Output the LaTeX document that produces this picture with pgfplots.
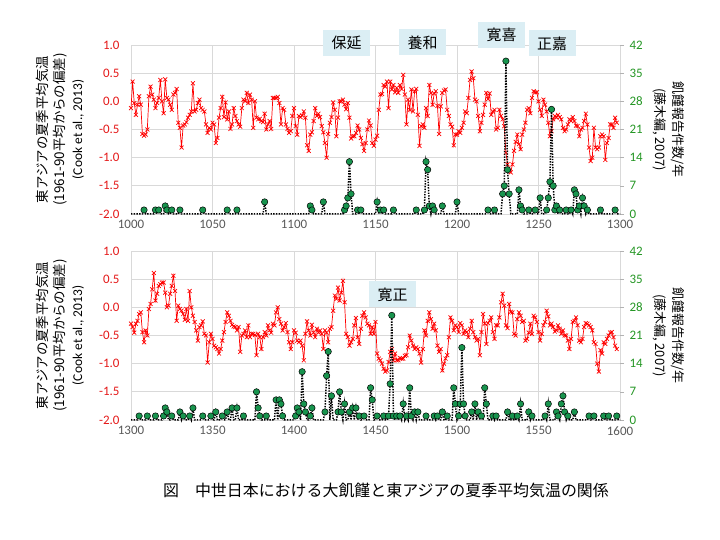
\documentclass[border=0pt]{standalone}
\usepackage{pgfplots}
\pgfplotsset{compat=1.18}
\usepackage{pgfplotstable}
\usepackage{fontspec}
\setmainfont{Carlito}
\newfontfamily\jp{Noto Sans CJK JP}
\definecolor{tred}{RGB}{228,24,24}
\definecolor{gdot}{RGB}{24,148,78}
\definecolor{glab}{RGB}{36,150,36}
\definecolor{gridc}{RGB}{217,217,217}
\definecolor{boxc}{RGB}{219,238,244}
\definecolor{xlab}{RGB}{89,89,89}

% temperature anomaly, 1000-1300
\pgfplotstableread[row sep=\\]{year t\\
1000 -0.12\\1001 0.35\\1002 -0.03\\1003 -0.24\\1004 -0.06\\1005 0.09\\1006 -0.06\\1007 -0.58\\1008 -0.61\\1009 -0.59\\
1010 -0.50\\1011 0.09\\1012 0.26\\1013 0.12\\1014 0.03\\1015 -0.12\\1016 -0.03\\1017 0.06\\1018 0.38\\1019 0.00\\
1020 -0.21\\1021 0.39\\1022 0.06\\1023 0.03\\1024 -0.06\\1025 -0.15\\1026 0.12\\1027 0.15\\1028 0.22\\1029 -0.38\\
1030 -0.47\\1031 -0.82\\1032 -0.43\\1033 -0.41\\1034 -0.37\\1035 -0.29\\1036 -0.24\\1037 -0.18\\1038 0.32\\1039 -0.18\\
1040 -0.15\\1041 -0.03\\1042 0.03\\1043 -0.12\\1044 -0.15\\1045 -0.18\\1046 -0.41\\1047 -0.56\\1048 -0.47\\1049 -0.50\\
1050 -0.38\\1051 -0.41\\1052 -0.74\\1053 -0.65\\1054 -0.29\\1055 -0.12\\1056 0.08\\1057 -0.28\\1058 -0.02\\1059 -0.32\\
1060 -0.18\\1061 -0.49\\1062 -0.41\\1063 -0.12\\1064 -0.26\\1065 -0.35\\1066 -0.41\\1067 -0.45\\1068 -0.12\\1069 0.03\\
1070 0.00\\1071 0.15\\1072 -0.03\\1073 0.12\\1074 0.03\\1075 -0.47\\1076 0.00\\1077 -0.29\\1078 -0.32\\1079 -0.31\\
1080 -0.35\\1081 -0.37\\1082 -0.22\\1083 -0.50\\1084 -0.41\\1085 -0.35\\1086 -0.49\\1087 0.06\\1088 0.06\\1089 0.06\\
1090 0.08\\1091 -0.03\\1092 -0.41\\1093 -0.12\\1094 -0.15\\1095 -0.41\\1096 -0.49\\1097 -0.56\\1098 -0.53\\1099 -0.26\\
1100 -0.12\\1101 -0.44\\1102 -0.59\\1103 -0.26\\1104 -0.28\\1105 -0.25\\1106 -0.18\\1107 -0.29\\1108 -0.78\\1109 -0.88\\
1110 -0.59\\1111 -0.55\\1112 -0.35\\1113 -0.12\\1114 -0.26\\1115 -0.22\\1116 -0.28\\1117 -0.44\\1118 -0.55\\1119 -0.74\\
1120 -1.00\\1121 -0.58\\1122 -0.38\\1123 -0.28\\1124 -0.02\\1125 -0.15\\1126 -0.62\\1127 -0.29\\1128 0.00\\1129 0.00\\
1130 0.03\\1131 -0.06\\1132 -0.14\\1133 -0.03\\1134 -0.29\\1135 -0.66\\1136 -0.62\\1137 -0.62\\1138 -0.56\\1139 -0.43\\
1140 -0.50\\1141 -0.65\\1142 -0.76\\1143 -0.88\\1144 -0.74\\1145 -0.50\\1146 -0.34\\1147 -0.43\\1148 -0.74\\1149 -0.79\\
1150 -0.68\\1151 -0.61\\1152 -0.15\\1153 0.12\\1154 0.13\\1155 0.29\\1156 0.26\\1157 0.35\\1158 -0.12\\1159 0.35\\
1160 0.21\\1161 0.29\\1162 0.16\\1163 0.24\\1164 0.15\\1165 0.29\\1166 0.22\\1167 0.47\\1168 0.12\\1169 -0.41\\
1170 0.03\\1171 -0.15\\1172 0.21\\1173 -0.18\\1174 0.18\\1175 0.22\\1176 -0.24\\1177 -0.79\\1178 -0.44\\1179 -0.41\\
1180 -0.47\\1181 -0.12\\1182 -0.26\\1183 0.29\\1184 0.15\\1185 -0.06\\1186 0.14\\1187 0.18\\1188 -0.08\\1189 -0.58\\
1190 -0.09\\1191 0.15\\1192 0.19\\1193 0.21\\1194 -0.15\\1195 -0.26\\1196 -0.41\\1197 -0.45\\1198 -0.78\\1199 -0.59\\
1200 -0.59\\1201 -0.53\\1202 -0.56\\1203 -0.47\\1204 -0.38\\1205 -0.18\\1206 -0.21\\1207 0.06\\1208 0.38\\1209 0.53\\
1210 0.41\\1211 0.03\\1212 0.00\\1213 -0.26\\1214 -0.53\\1215 -0.38\\1216 -0.24\\1217 -0.06\\1218 0.15\\1219 0.04\\
1220 0.14\\1221 -0.24\\1222 -0.18\\1223 -0.15\\1224 -0.50\\1225 -0.47\\1226 -0.15\\1227 -0.26\\1228 -0.32\\1229 -0.44\\
1230 -0.91\\1231 -1.12\\1232 -1.24\\1233 -1.26\\1234 -1.12\\1235 -0.88\\1236 -0.72\\1237 -0.59\\1238 -0.76\\1239 -0.85\\
1240 -0.59\\1241 -0.50\\1242 -0.38\\1243 -0.15\\1244 -0.12\\1245 -0.21\\1246 0.06\\1247 0.18\\1248 0.16\\1249 0.16\\
1250 0.00\\1251 -0.15\\1252 -0.26\\1253 0.03\\1254 -0.06\\1255 -0.18\\1256 -0.38\\1257 -0.62\\1258 -0.53\\1259 -0.32\\
1260 -0.26\\1261 -0.29\\1262 -0.24\\1263 -0.28\\1264 -0.32\\1265 -0.47\\1266 -0.53\\1267 -0.50\\1268 -0.41\\1269 -0.32\\
1270 -0.35\\1271 -0.28\\1272 -0.35\\1273 -0.43\\1274 -0.44\\1275 -0.62\\1276 -0.50\\1277 -0.47\\1278 -0.35\\1279 -0.22\\
1280 -0.41\\1281 -0.82\\1282 -1.06\\1283 -1.00\\1284 -0.47\\1285 -0.82\\1286 -0.85\\1287 -0.82\\1288 -0.62\\1289 -0.59\\
1290 -0.62\\1291 -1.04\\1292 -0.74\\1293 -0.65\\1294 -0.41\\1295 -0.41\\1296 -0.47\\1297 -0.29\\1298 -0.38\\
}\tempA

% famine reports per year, 1000-1300
\pgfplotstableread[row sep=\\]{year n\\
1000 0\\1007 0\\1008 1\\1009 0\\1014 0\\1015 1\\1016 0\\1017 1\\1018 0\\1020 0\\1021 2\\1022 1\\1023 0\\1024 0\\1025 1\\1026 0\\
1029 0\\1030 1\\1031 0\\1043 0\\1044 1\\1045 0\\1058 0\\1059 1\\1060 0\\1064 0\\1065 1\\1066 0\\1081 0\\1082 3\\1083 0\\
1109 0\\1110 2\\1111 1\\1112 0\\1117 0\\1118 3\\1119 0\\1130 0\\1131 1\\1132 2\\1133 4\\1134 13\\1135 5\\1136 0\\
1138 0\\1139 1\\1140 0\\1141 1\\1142 0\\1150 0\\1151 3\\1152 0\\1153 1\\1154 0\\1155 1\\1156 0\\1160 0\\1161 1\\1162 0\\
1174 0\\1175 1\\1176 0\\1179 0\\1180 1\\1181 13\\1182 11\\1183 2\\1184 0\\1185 2\\1186 1\\1187 0\\1190 0\\1191 2\\1192 0\\
1199 0\\1200 3\\1201 0\\1218 0\\1219 1\\1220 0\\1222 0\\1223 1\\1224 0\\1227 0\\1228 5\\1229 7\\1230 38\\1231 11\\1232 5\\1233 0\\
1237 0\\1238 6\\1239 2\\1240 1\\1241 0\\1243 0\\1244 1\\1245 0\\1247 0\\1248 1\\1249 0\\1250 0\\1251 4\\1252 0\\
1254 0\\1255 1\\1256 4\\1257 8\\1258 26\\1259 7\\1260 1\\1261 2\\1262 0\\1263 1\\1264 0\\1266 0\\1267 1\\1268 0\\
1269 0\\1270 1\\1271 0\\1272 6\\1273 5\\1274 1\\1275 2\\1276 0\\1277 4\\1278 2\\1279 0\\1280 1\\1281 0\\
1287 0\\1288 1\\1289 0\\1296 0\\1297 1\\1298 0\\1300 0\\
}\famA

% temperature anomaly, 1300-1600
\pgfplotstableread[row sep=\\]{year t\\
1300 -0.29\\1301 -0.35\\1302 -0.45\\1303 -0.29\\1304 -0.24\\1305 -0.12\\1306 -0.09\\1307 -0.44\\1308 -0.62\\1309 -0.41\\
1310 -0.50\\1311 -0.03\\1312 0.06\\1313 0.32\\1314 0.61\\1315 0.12\\1316 0.24\\1317 0.38\\1318 0.41\\1319 0.44\\
1320 0.44\\1321 0.26\\1322 0.00\\1323 0.03\\1324 0.24\\1325 0.38\\1326 0.56\\1327 0.29\\1328 -0.24\\1329 0.03\\
1330 -0.03\\1331 -0.06\\1332 -0.12\\1333 -0.22\\1334 -0.03\\1335 -0.24\\1336 0.29\\1337 0.00\\1338 -0.15\\1339 -0.26\\
1340 -0.41\\1341 -0.59\\1342 -0.35\\1343 -0.32\\1344 -0.25\\1345 -0.47\\1346 -0.50\\1347 -0.98\\1348 -0.62\\1349 -0.47\\
1350 -0.56\\1351 -0.68\\1352 -0.71\\1353 -0.74\\1354 -0.82\\1355 -0.74\\1356 -0.59\\1357 -0.44\\1358 -0.26\\1359 -0.09\\
1360 -0.15\\1361 -0.24\\1362 -0.31\\1363 -0.34\\1364 -0.35\\1365 -0.41\\1366 -0.35\\1367 -0.79\\1368 -0.50\\1369 -0.47\\
1370 -0.41\\1371 -0.53\\1372 -0.32\\1373 -0.53\\1374 -0.47\\1375 -0.47\\1376 -0.49\\1377 -0.85\\1378 -0.47\\1379 -0.53\\
1380 -0.74\\1381 -0.53\\1382 -0.44\\1383 -0.50\\1384 -0.32\\1385 -0.41\\1386 -0.45\\1387 -0.29\\1388 -0.32\\1389 -0.09\\
1390 0.00\\1391 -0.21\\1392 -0.29\\1393 -0.41\\1394 -0.35\\1395 -0.28\\1396 -0.44\\1397 -0.62\\1398 -0.74\\1399 -0.62\\
1400 -0.41\\1401 -0.45\\1402 -0.59\\1403 -0.62\\1404 -0.59\\1405 -0.68\\1406 -0.94\\1407 -0.47\\1408 -0.25\\1409 -0.41\\
1410 -0.50\\1411 -0.31\\1412 -0.45\\1413 -0.53\\1414 -0.38\\1415 -0.45\\1416 -0.41\\1417 -0.47\\1418 -0.74\\1419 -0.41\\
1420 -0.45\\1421 -0.62\\1422 -0.38\\1423 -0.35\\1424 -0.06\\1425 0.21\\1426 0.15\\1427 0.35\\1428 0.12\\1429 0.26\\
1430 0.47\\1431 0.09\\1432 -0.47\\1433 -0.53\\1434 -0.68\\1435 -0.62\\1436 -0.56\\1437 -0.32\\1438 -0.19\\1439 -0.53\\
1440 -0.65\\1441 -0.38\\1442 -0.15\\1443 -0.09\\1444 -0.18\\1445 -0.29\\1446 -0.32\\1447 -0.47\\1448 -0.35\\1449 -0.47\\
1450 -0.26\\1451 -0.82\\1452 -0.91\\1453 -0.94\\1454 -1.00\\1455 -1.09\\1456 -1.14\\1457 -1.12\\1458 -0.97\\1459 -0.79\\
1460 -0.74\\1461 -0.94\\1462 -0.82\\1463 -0.94\\1464 -0.94\\1465 -0.90\\1466 -0.91\\1467 -0.91\\1468 -0.86\\1469 -0.85\\
1470 -0.71\\1471 -0.50\\1472 -0.59\\1473 -0.68\\1474 -0.74\\1475 -0.71\\1476 -0.74\\1477 -0.82\\1478 -0.98\\1479 -0.74\\
1480 -0.41\\1481 -0.50\\1482 -0.24\\1483 -0.09\\1484 -0.21\\1485 -0.38\\1486 -0.29\\1487 -0.41\\1488 -0.68\\1489 -0.79\\
1490 -0.74\\1491 -1.12\\1492 -1.00\\1493 -0.91\\1494 -0.85\\1495 -0.53\\1496 -0.18\\1497 -0.24\\1498 -0.41\\1499 -0.32\\
1500 -0.35\\1501 -0.44\\1502 -0.28\\1503 -0.32\\1504 -0.47\\1505 -0.41\\1506 -0.44\\1507 -0.53\\1508 -0.38\\1509 -0.24\\
1510 -0.44\\1511 -0.53\\1512 -0.59\\1513 -0.56\\1514 -0.85\\1515 -0.44\\1516 -0.12\\1517 -0.29\\1518 -0.65\\1519 -0.28\\
1520 -0.24\\1521 -0.18\\1522 -0.44\\1523 -0.56\\1524 -0.32\\1525 -0.32\\1526 -0.18\\1527 0.09\\1528 0.24\\1529 0.03\\
1530 -0.32\\1531 -0.37\\1532 0.06\\1533 -0.08\\1534 -0.09\\1535 -0.47\\1536 -0.50\\1537 -0.21\\1538 -0.09\\1539 -0.15\\
1540 -0.26\\1541 -0.24\\1542 -0.59\\1543 -0.56\\1544 -0.45\\1545 -0.29\\1546 -0.47\\1547 -0.15\\1548 -0.18\\1549 -0.26\\
1550 -0.44\\1551 -0.59\\1552 -0.47\\1553 -0.32\\1554 -0.26\\1555 -0.06\\1556 -0.16\\1557 -0.32\\1558 -0.29\\1559 -0.35\\
1560 -0.43\\1561 -0.41\\1562 -0.32\\1563 -0.38\\1564 -0.47\\1565 -0.41\\1566 -0.50\\1567 -0.50\\1568 -0.59\\1569 -0.74\\
1570 -0.56\\1571 -0.26\\1572 -0.24\\1573 -0.18\\1574 -0.32\\1575 -0.59\\1576 -0.62\\1577 -0.56\\1578 -0.35\\1579 -0.28\\
1580 -0.29\\1581 -0.32\\1582 -0.35\\1583 -0.41\\1584 -0.62\\1585 -0.65\\1586 -1.00\\1587 -1.14\\1588 -0.76\\1589 -0.82\\
1590 -0.62\\1591 -0.65\\1592 -0.56\\1593 -0.50\\1594 -0.45\\1595 -0.44\\1596 -0.53\\1597 -0.68\\1598 -0.74\\
}\tempB

% famine reports per year, 1300-1600
\pgfplotstableread[row sep=\\]{year n\\
1300 0\\1304 0\\1305 1\\1306 0\\1309 0\\1310 1\\1311 0\\1314 0\\1315 1\\1316 0\\1319 0\\1320 1\\1321 3\\1322 2\\1323 0\\
1324 0\\1325 1\\1326 0\\1329 0\\1330 2\\1331 0\\1332 1\\1333 0\\1335 0\\1336 1\\1337 0\\1338 3\\1339 0\\1343 0\\1344 1\\1345 0\\
1348 0\\1349 1\\1350 0\\1351 0\\1352 2\\1353 0\\1355 0\\1356 1\\1357 0\\1358 0\\1359 2\\1360 0\\1361 0\\1362 3\\1363 0\\
1364 0\\1365 3\\1366 0\\1368 0\\1369 1\\1370 0\\1376 0\\1377 7\\1378 3\\1379 1\\1380 0\\1382 0\\1383 1\\1384 0\\
1388 0\\1389 5\\1390 0\\1391 5\\1392 4\\1393 1\\1394 0\\1400 0\\1401 1\\1402 3\\1403 2\\1404 0\\1405 12\\1406 4\\1407 2\\1408 0\\
1409 0\\1410 1\\1411 3\\1412 0\\1418 0\\1419 2\\1420 11\\1421 17\\1422 0\\1423 6\\1424 0\\1426 0\\1427 2\\1428 7\\1429 2\\1430 0\\
1431 4\\1432 0\\1433 0\\1434 2\\1435 0\\1436 3\\1437 0\\1438 3\\1439 0\\1440 1\\1441 0\\1442 0\\1443 1\\1444 0\\
1446 0\\1447 8\\1448 5\\1449 0\\1450 0\\1451 1\\1452 0\\1454 0\\1455 1\\1456 0\\1457 0\\1458 1\\1459 9\\1460 26\\1461 1\\1462 0\\
1463 1\\1464 0\\1465 1\\1466 0\\1467 4\\1468 0\\1469 1\\1470 0\\1471 8\\1472 1\\1473 0\\1474 2\\1475 0\\1476 2\\1477 0\\
1480 0\\1481 1\\1482 0\\1485 0\\1486 1\\1487 0\\1488 1\\1489 0\\1490 0\\1491 2\\1492 0\\1493 0\\1494 1\\1495 0\\
1497 0\\1498 8\\1499 4\\1500 0\\1501 1\\1502 4\\1503 18\\1504 4\\1505 1\\1506 0\\1508 0\\1509 2\\1510 0\\1511 4\\1512 0\\
1513 2\\1514 0\\1515 1\\1516 0\\1517 8\\1518 4\\1519 0\\1521 0\\1522 1\\1523 0\\1524 1\\1525 0\\1530 0\\1531 2\\1532 0\\
1533 0\\1534 1\\1535 0\\1536 0\\1537 1\\1538 0\\1539 4\\1540 0\\1543 0\\1544 2\\1545 0\\1546 1\\1547 0\\
1553 0\\1554 1\\1555 0\\1556 4\\1557 0\\1560 0\\1561 2\\1562 1\\1563 0\\1564 4\\1565 6\\1566 2\\1567 0\\1568 1\\1569 0\\
1571 0\\1572 2\\1573 0\\1580 0\\1581 1\\1582 0\\1583 0\\1584 1\\1585 0\\1589 0\\1590 1\\1591 0\\1592 0\\1593 1\\1594 0\\
1597 0\\1598 1\\1599 0\\1600 0\\
}\famB

\pgfplotsset{
  tempax/.style={
    scale only axis, width=489bp, height=169bp, anchor=south west,
    ymin=-2, ymax=1, ytick={-2,-1.5,-1,-0.5,0,0.5,1},
    yticklabels={-2.0,-1.5,-1.0,-0.5,0.0,0.5,1.0},
    grid=major, major grid style={draw=gridc, line width=0.8bp},
    axis line style={draw=none}, major tick length=0pt,
    yticklabel style={text=tred, font=\fontsize{13}{13}\selectfont, xshift=-8bp},
    xticklabel style={text=xlab, font=\fontsize{13}{13}\selectfont, yshift=-3bp},
    clip=false,
  },
  famax/.style={
    scale only axis, width=489bp, height=169bp, anchor=south west,
    ymin=0, ymax=42, ytick={0,7,14,21,28,35,42},
    yticklabels={0,7,14,21,28,35,42},
    axis x line=none, axis y line*=right, axis line style={draw=none},
    tick align=outside, major tick length=4bp,
    ytick style={draw=gray!60, line width=0.6bp},
    yticklabel style={text=glab, font=\fontsize{13}{13}\selectfont, xshift=2bp},
    clip=false,
  },
  tline/.style={draw=red, line width=0.7bp, mark=x, mark size=2.8bp,
    mark options={draw=red, line width=0.7bp, solid}},
  fline/.style={draw=black, line width=1.5bp, dash pattern=on 1.4bp off 1.3bp, no marks},
  fdot/.style={only marks, mark=*, mark size=3.2bp,
    mark options={fill=gdot, draw=black, line width=0.5bp, solid},
    restrict y to domain=0.5:100},
}

\tikzset{era/.style={fill=boxc, minimum width=47bp, minimum height=26bp, inner sep=0pt,
  font=\jp\fontsize{15}{15}\selectfont}}

\begin{document}
\begin{tikzpicture}[x=1bp,y=1bp]
\path[use as bounding box] (0bp,0bp) rectangle (720bp,540bp);

% ---------- top panel ----------
\begin{axis}[tempax, at={(131bp,326bp)}, xmin=1000, xmax=1300,
  xtick={1000,1050,1100,1150,1200,1250,1300},
  xticklabels={1000,1050,1100,1150,1200,1250,1300}]
\addplot[tline] table[x=year,y=t] {\tempA};
\end{axis}
\begin{axis}[famax, at={(131bp,326bp)}, xmin=1000, xmax=1300]
\addplot[fline] table[x=year,y=n] {\famA};
\addplot[fdot] table[x=year,y=n] {\famA};
\end{axis}

% ---------- bottom panel ----------
\begin{axis}[tempax, at={(131bp,120bp)}, xmin=1300, xmax=1600,
  xtick={1300,1350,1400,1450,1500,1550,1600},
  xticklabels={1300,1350,1400,1450,1500,1550,1600}]
\addplot[tline] table[x=year,y=t] {\tempB};
\end{axis}
\begin{axis}[famax, at={(131bp,120bp)}, xmin=1300, xmax=1600]
\addplot[fline] table[x=year,y=n] {\famB};
\addplot[fdot] table[x=year,y=n] {\famB};
\end{axis}

% axis titles
\foreach \yc in {410.5bp,204.5bp}{
  \node[rotate=90, align=center, font=\jp\fontsize{13.5}{17.5}\selectfont] at (60bp,\yc)
    {東アジアの夏季平均気温\\(1961-90平均からの偏差)\\{\normalfont (Cook et al., 2013)}};
  \node[rotate=-90, align=center, font=\jp\fontsize{13}{18}\selectfont] at (669bp,\yc)
    {飢饉報告件数/年\\(藤木編, 2007)};
}

% era labels
\node[era] at (346.5bp,497bp) {保延};
\node[era] at (422.5bp,497.5bp) {養和};
\node[era] at (501.5bp,505bp) {寛喜};
\node[era] at (552bp,496.5bp) {正嘉};
\node[era] at (392.5bp,245.5bp) {寛正};

% caption
\node[font=\jp\fontsize{16}{16}\selectfont] at (386bp,50bp)
  {図　中世日本における大飢饉と東アジアの夏季平均気温の関係};
\end{tikzpicture}
\end{document}
